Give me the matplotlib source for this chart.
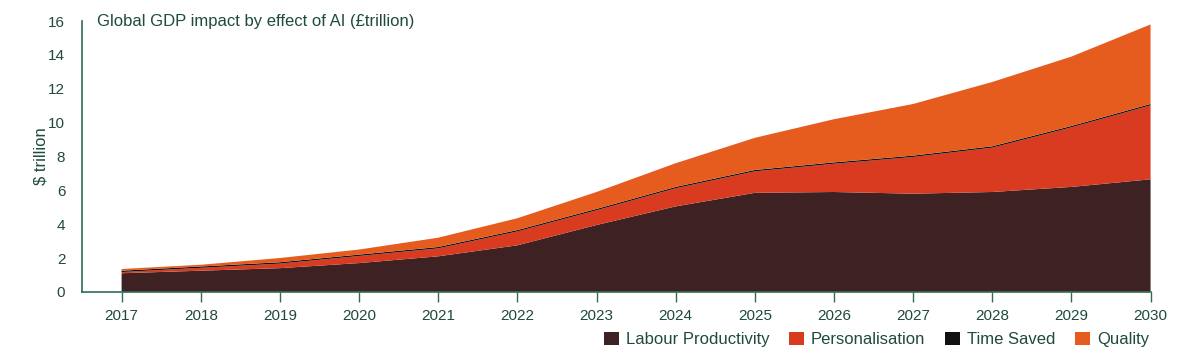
import matplotlib.pyplot as plt
from matplotlib.patches import Patch

plt.rcParams['font.family'] = ['Liberation Sans', 'DejaVu Sans']

# Values ($ trillion, stacked layers)
years = [2017, 2018, 2019, 2020, 2021, 2022, 2023, 2024, 2025, 2026, 2027, 2028, 2029, 2030]
labour = [1.10, 1.25, 1.40, 1.70, 2.10, 2.75, 3.95, 5.05, 5.85, 5.90, 5.80, 5.90, 6.20, 6.65]
personalisation = [0.07, 0.17, 0.27, 0.42, 0.47, 0.82, 0.87, 1.07, 1.27, 1.67, 2.17, 2.62, 3.52, 4.37]
time_saved = [0.08, 0.08, 0.08, 0.08, 0.08, 0.08, 0.08, 0.08, 0.08, 0.08, 0.08, 0.08, 0.08, 0.08]
quality = [0.10, 0.10, 0.25, 0.30, 0.55, 0.70, 1.00, 1.40, 1.90, 2.55, 3.05, 3.80, 4.10, 4.70]

labels = ['Labour Productivity', 'Personalisation', 'Time Saved', 'Quality']
colors = ['#3e2122', '#d93b21', '#111111', '#e65c1f']

text_col = '#1f4a3c'
axis_col = '#2f6b56'

fig = plt.figure(figsize=(11.82, 3.63), dpi=100)
ax = fig.add_axes([0.0694, 0.196, 0.904, 0.746])

ax.stackplot(years, labour, personalisation, time_saved, quality,
             colors=colors, linewidth=0)

ax.set_xlim(2016.5, 2030)
ax.set_ylim(0, 16)
ax.set_xticks(years)
ax.set_yticks(range(0, 17, 2))

for s in ['top', 'right']:
    ax.spines[s].set_visible(False)
for s in ['left', 'bottom']:
    ax.spines[s].set_color(axis_col)
    ax.spines[s].set_linewidth(1.2)

ax.tick_params(axis='y', length=0, pad=12, labelsize=11, labelcolor=text_col)
ax.tick_params(axis='x', length=7, width=1, color=axis_col, pad=5,
               labelsize=11, labelcolor=text_col)

ax.set_ylabel(r'\$ trillion', fontsize=12, color=text_col, labelpad=0)
ax.text(0.014, 1.0, 'Global GDP impact by effect of AI (£trillion)',
        transform=ax.transAxes, fontsize=12, color=text_col, va='center', ha='left')

handles = [Patch(facecolor=c, edgecolor='none') for c in colors]
fig.legend(handles, labels, ncol=4, loc='center right', bbox_to_anchor=(0.985, 0.065),
           frameon=False, fontsize=12, labelcolor=text_col, handlelength=0.9,
           handleheight=0.9, handletextpad=0.4, columnspacing=1.2)

fig.savefig('out.png', dpi=100)
